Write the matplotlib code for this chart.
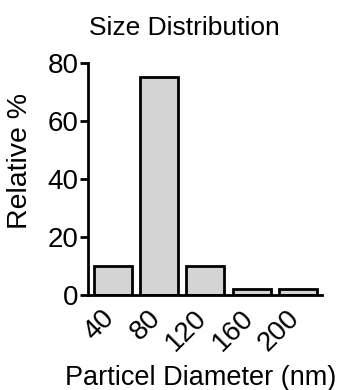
import numpy as np
import matplotlib.pyplot as plt

plt.rcParams['font.family'] = ['Liberation Sans', 'DejaVu Sans']

diameters = ['40', '80', '120', '160', '200']
relative = [10, 75, 10, 2, 2]

fig = plt.figure(figsize=(3.43, 3.90), dpi=100)
ax = fig.add_axes([0.2566, 0.2436, 0.939 - 0.2566, 0.8385 - 0.2436])

x = np.arange(len(diameters))
ax.bar(x, relative, width=0.82, color='#d4d4d4', edgecolor='black', linewidth=2)

ax.set_xlim(-0.53, 4.52)
ax.set_ylim(0, 80)
ax.set_yticks([0, 20, 40, 60, 80])
ax.set_xticks(x + 0.15)
ax.set_xticklabels(diameters, rotation=45, ha='right', va='top')

for s in ['top', 'right']:
    ax.spines[s].set_visible(False)
for s in ['left', 'bottom']:
    ax.spines[s].set_linewidth(2)

ax.tick_params(axis='y', length=6, width=2, labelsize=20, pad=1)
ax.tick_params(axis='x', length=0, labelsize=20, pad=7)

ax.set_ylabel('Relative %', fontsize=20.5)
ax.yaxis.set_label_coords(-0.235, 0.578)
ax.set_xlabel('Particel Diameter (nm)', fontsize=19.5)
ax.xaxis.set_label_coords(0.483, -0.303)
ax.set_title('Size Distribution', fontsize=19, x=0.41, pad=20)

fig.savefig('out.png', dpi=100)
